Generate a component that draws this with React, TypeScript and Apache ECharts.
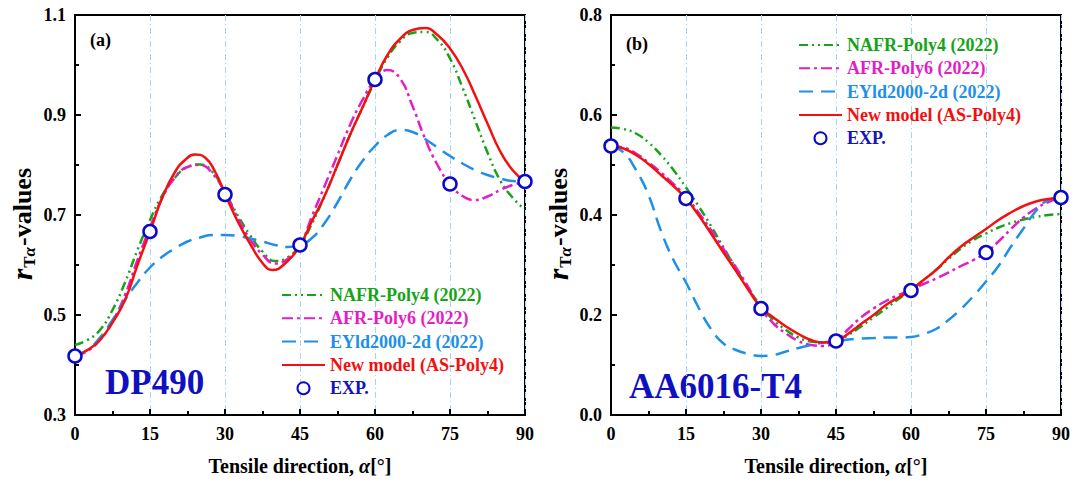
import React, { useEffect, useRef } from "react";
import * as echarts from "echarts";

const FONT = "'Times New Roman', 'Liberation Serif', 'DejaVu Serif', serif";

const NAMES = ["NAFR-Poly4 (2022)", "AFR-Poly6 (2022)", "EYld2000-2d (2022)", "New model (AS-Poly4)", "EXP."];
const COLORS = ["#17a317", "#e31ec6", "#1f8fe8", "#f21010", "#0a0ac8"];
const TEXT_COLORS = ["#17a317", "#e31ec6", "#1f8fe8", "#f21010", "#1515b5"];
const DASHES: any[] = [[9, 4, 2, 4, 2, 4], [11, 4, 3, 4], [14, 8], "solid"];

const xTicks = [0, 15, 30, 45, 60, 75, 90];
const angles = [0, 2.5, 5, 7.5, 10, 12.5, 15, 17.5, 20, 22.5, 25, 27.5, 30, 32.5, 35, 37.5, 40, 42.5, 45,
  47.5, 50, 52.5, 55, 57.5, 60, 62.5, 65, 67.5, 70, 72.5, 75, 77.5, 80, 82.5, 85, 87.5, 90];
// finer sampling around the extrema of the new model curve in panel (a)
const dpNewAngles = [0, 2.5, 5, 7.5, 10, 12.5, 15, 17.5, 20, 22, 24, 26, 28, 30, 32.5, 35, 37.5, 39.5, 42, 45,
  47.5, 50, 52.5, 55, 57.5, 60, 62.5, 65, 67.5, 70, 72.5, 75, 77.5, 80, 82.5, 85, 87.5, 90];

// Panel (a) DP490
const dpNAFR = [0.44, 0.45, 0.47, 0.51, 0.565, 0.63, 0.69, 0.74, 0.775, 0.796, 0.801, 0.786, 0.745, 0.7, 0.66, 0.627, 0.608, 0.615, 0.64,
  0.685, 0.74, 0.8, 0.86, 0.915, 0.968, 1.015, 1.047, 1.064, 1.066, 1.05, 1.013, 0.955, 0.89, 0.825, 0.77, 0.735, 0.711];
const dpAFR = [0.418, 0.428, 0.45, 0.487, 0.54, 0.61, 0.675, 0.735, 0.775, 0.796, 0.8, 0.783, 0.745, 0.695, 0.652, 0.621, 0.603, 0.612, 0.64,
  0.7, 0.76, 0.82, 0.88, 0.93, 0.97, 0.99, 0.973, 0.918, 0.853, 0.8, 0.762, 0.738, 0.73, 0.737, 0.75, 0.76, 0.767];
const dpEYld = [0.418, 0.43, 0.455, 0.49, 0.53, 0.565, 0.595, 0.617, 0.633, 0.647, 0.655, 0.66, 0.66, 0.658, 0.653, 0.647, 0.64, 0.636, 0.64,
  0.655, 0.685, 0.725, 0.77, 0.808, 0.838, 0.86, 0.87, 0.866, 0.852, 0.835, 0.818, 0.803, 0.79, 0.78, 0.773, 0.768, 0.767];
const dpNew = [0.418, 0.43, 0.45, 0.485, 0.53, 0.6, 0.667, 0.736, 0.786, 0.81, 0.821, 0.815, 0.787, 0.742, 0.688, 0.643, 0.604, 0.59, 0.603, 0.64,
  0.69, 0.74, 0.8, 0.86, 0.915, 0.971, 1.02, 1.052, 1.07, 1.074, 1.06, 1.033, 0.993, 0.94, 0.883, 0.828, 0.79, 0.767];
const dpExp = [0.418, 0.667, 0.741, 0.64, 0.971, 0.762, 0.767];

// Panel (b) AA6016-T4
const aaNAFR = [0.575, 0.572, 0.563, 0.545, 0.52, 0.49, 0.455, 0.418, 0.378, 0.335, 0.293, 0.252, 0.218, 0.19, 0.17, 0.155, 0.147, 0.145, 0.148,
  0.16, 0.177, 0.195, 0.213, 0.232, 0.25, 0.27, 0.29, 0.312, 0.333, 0.35, 0.363, 0.375, 0.384, 0.391, 0.396, 0.4, 0.402];
const aaAFR = [0.538, 0.535, 0.523, 0.505, 0.485, 0.462, 0.437, 0.405, 0.37, 0.332, 0.295, 0.255, 0.213, 0.183, 0.163, 0.148, 0.14, 0.138, 0.148,
  0.172, 0.195, 0.213, 0.228, 0.24, 0.25, 0.262, 0.273, 0.285, 0.298, 0.31, 0.325, 0.347, 0.372, 0.395, 0.413, 0.426, 0.435];
const aaEYld = [0.538, 0.525, 0.49, 0.44, 0.368, 0.31, 0.265, 0.215, 0.172, 0.143, 0.13, 0.122, 0.118, 0.12, 0.127, 0.134, 0.14, 0.145, 0.148,
  0.151, 0.153, 0.154, 0.155, 0.155, 0.156, 0.162, 0.172, 0.19, 0.212, 0.238, 0.267, 0.298, 0.337, 0.373, 0.408, 0.43, 0.435];
const aaNew = [0.538, 0.533, 0.52, 0.502, 0.48, 0.458, 0.433, 0.4, 0.363, 0.325, 0.288, 0.25, 0.215, 0.195, 0.177, 0.162, 0.15, 0.145, 0.148,
  0.163, 0.182, 0.2, 0.22, 0.235, 0.25, 0.27, 0.29, 0.315, 0.337, 0.355, 0.372, 0.39, 0.405, 0.418, 0.427, 0.432, 0.435];
const aaExp = [0.538, 0.433, 0.213, 0.148, 0.249, 0.325, 0.435];

const pair = (xs: number[], ys: number[]) => xs.map((x, i) => [x, ys[i]]);

function buildSeries(idx: number, curves: [number[], number[]][], exp: number[]) {
  const out: any[] = curves.map(([xs, ys], k) => ({
    name: NAMES[k],
    type: "line",
    xAxisIndex: idx,
    yAxisIndex: idx,
    data: pair(xs, ys),
    smooth: 0.5,
    symbol: "none",
    showSymbol: false,
    z: 3 + k,
    lineStyle: { color: COLORS[k], width: 2.5, type: DASHES[k], cap: "butt" },
    itemStyle: { color: COLORS[k] },
  }));
  out.push({
    name: NAMES[4],
    type: "scatter",
    xAxisIndex: idx,
    yAxisIndex: idx,
    data: pair(xTicks, exp),
    symbol: "circle",
    symbolSize: 13,
    clip: false,
    z: 10,
    itemStyle: { color: "#ffffff", borderColor: COLORS[4], borderWidth: 2.5, opacity: 1 },
  });
  return out;
}

const labelStyle = { fontFamily: FONT, fontWeight: "bold", fontSize: 18, color: "#000" };

function xAxis(idx: number) {
  return {
    type: "value",
    gridIndex: idx,
    min: 0,
    max: 90,
    interval: 15,
    name: "Tensile direction, {i|α}[°]",
    nameLocation: "middle",
    nameGap: 41,
    nameTextStyle: {
      fontFamily: FONT, fontWeight: "bold", fontSize: 20, color: "#000",
      rich: { i: { fontFamily: FONT, fontWeight: "bold", fontStyle: "italic", fontSize: 20, color: "#000" } },
    },
    axisLine: { show: true, lineStyle: { color: "#000", width: 2 } },
    axisTick: { show: true, inside: true, length: 6, lineStyle: { color: "#000", width: 2 } },
    minorTick: { show: true, splitNumber: 2, length: 4, lineStyle: { color: "#000", width: 2 } },
    axisLabel: { ...labelStyle, margin: 10 },
    splitLine: { show: true, lineStyle: { color: "#a6d4f7", width: 1, type: [6, 3, 1, 3] } },
  };
}

function yAxis(idx: number, min: number, max: number) {
  return {
    type: "value",
    gridIndex: idx,
    min,
    max,
    interval: 0.2,
    name: "{r|r}{t|T}{a|α}{v|-values}",
    nameLocation: "middle",
    nameRotate: 90,
    nameGap: 37,
    nameTextStyle: {
      fontFamily: FONT, fontWeight: "bold", fontSize: 26, color: "#000",
      padding: [0, 18, 0, 0],
      rich: {
        r: { fontFamily: FONT, fontWeight: "bold", fontStyle: "italic", fontSize: 29, color: "#000" },
        t: { fontFamily: FONT, fontWeight: "bold", fontSize: 17, color: "#000", verticalAlign: "bottom", padding: [15, 0, 0, 1] },
        a: { fontFamily: FONT, fontWeight: "bold", fontStyle: "italic", fontSize: 17, color: "#000", verticalAlign: "bottom", padding: [15, 1, 0, 0] },
        v: { fontFamily: FONT, fontWeight: "bold", fontSize: 26, color: "#000" },
      },
    },
    axisLine: { show: true, lineStyle: { color: "#000", width: 2 } },
    axisTick: { show: true, inside: true, length: 6, lineStyle: { color: "#000", width: 2 } },
    minorTick: { show: true, splitNumber: 2, length: 4, lineStyle: { color: "#000", width: 2 } },
    axisLabel: { ...labelStyle, margin: 9, formatter: (v: number) => v.toFixed(1) },
    splitLine: { show: false },
  };
}

function legend(left: number, top: number) {
  return {
    orient: "vertical",
    left,
    top,
    padding: 0,
    itemWidth: 43,
    itemHeight: 12,
    itemGap: 5.3,
    selectedMode: false,
    textStyle: { fontFamily: FONT, fontWeight: "bold", fontSize: 18 },
    data: NAMES.map((n, i) => ({
      name: n,
      textStyle: { color: TEXT_COLORS[i], fontFamily: FONT, fontWeight: "bold", fontSize: 18 },
      ...(i < 4 ? { itemStyle: { opacity: 0 } } : {}),
    })),
  };
}

export default function App() {
  const ref = useRef<HTMLDivElement>(null);
  useEffect(() => {
    if (!ref.current) return;
    const chart = echarts.init(ref.current, undefined, { renderer: "svg" });
    chart.setOption({
      animation: false,
      backgroundColor: "#ffffff",
      grid: [
        { left: 75, top: 15, width: 450, height: 400, show: true, borderColor: "#000", borderWidth: 2, backgroundColor: "transparent" },
        { left: 611, top: 15, width: 450, height: 400, show: true, borderColor: "#000", borderWidth: 2, backgroundColor: "transparent" },
      ],
      xAxis: [xAxis(0), xAxis(1)],
      yAxis: [yAxis(0, 0.3, 1.1), yAxis(1, 0, 0.8)],
      legend: [legend(281, 286), legend(798, 36)],
      series: [
        ...buildSeries(0, [[angles, dpNAFR], [angles, dpAFR], [angles, dpEYld], [dpNewAngles, dpNew]], dpExp),
        ...buildSeries(1, [[angles, aaNAFR], [angles, aaAFR], [angles, aaEYld], [angles, aaNew]], aaExp),
      ],
      graphic: [
        { type: "text", x: 90, y: 40, style: { text: "(a)", fontFamily: FONT, fontWeight: "bold", fontSize: 18, fill: "#000", textVerticalAlign: "middle" } },
        { type: "text", x: 626, y: 44, style: { text: "(b)", fontFamily: FONT, fontWeight: "bold", fontSize: 18, fill: "#000", textVerticalAlign: "middle" } },
        { type: "text", x: 105, y: 382, style: { text: "DP490", fontFamily: FONT, fontWeight: "bold", fontSize: 35, fill: "#1010c0", textVerticalAlign: "middle" } },
        { type: "text", x: 629, y: 386, style: { text: "AA6016-T4", fontFamily: FONT, fontWeight: "bold", fontSize: 35, fill: "#1010c0", textVerticalAlign: "middle" } },
      ],
    });
    return () => chart.dispose();
  }, []);
  return <div ref={ref} style={{ position: "fixed", left: 0, top: 0, width: 1075, height: 485 }} />;
}
